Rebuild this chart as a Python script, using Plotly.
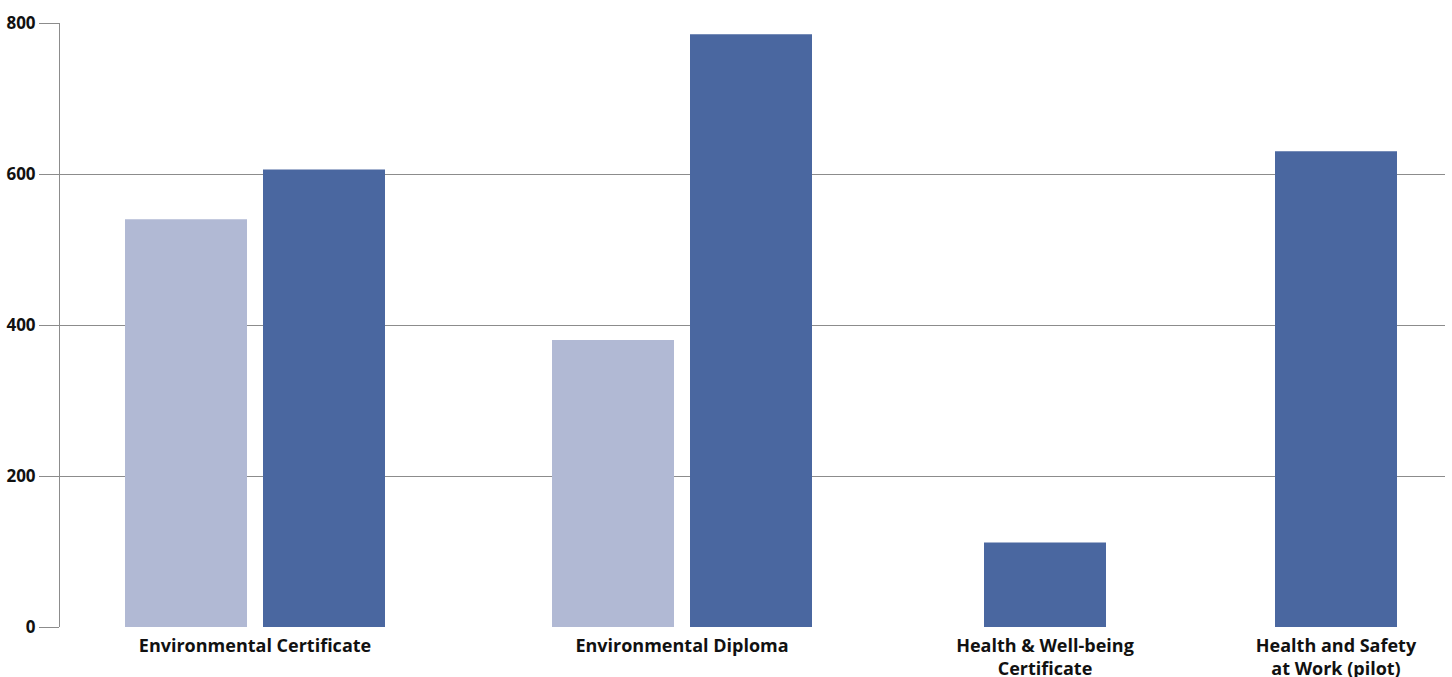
import plotly.graph_objects as go

# ---- data ----
categories = ["Environmental Certificate", "Environmental Diploma",
              "Health & Well-being<br>Certificate", "Health and Safety<br>at Work (pilot)"]
series_a = [540, 380, None, None]     # light series
series_b = [606, 785, 112, 630]       # dark series
y_ticks = [0, 200, 400, 600, 800]

# ---- layout constants (axis units) ----
centers = [195, 622, 985, 1276]
bar_w = 122
half_gap = 69

xa, ya, xb, yb = [], [], [], []
for c, a, b in zip(centers, series_a, series_b):
    if a is not None:
        xa.append(c - half_gap); ya.append(a)
        xb.append(c + half_gap); yb.append(b)
    else:
        xb.append(c); yb.append(b)

fig = go.Figure()
fig.add_trace(go.Bar(x=xa, y=ya, width=bar_w, marker=dict(color="#B1B9D4", line=dict(width=0)),
                     showlegend=False, hoverinfo="y"))
fig.add_trace(go.Bar(x=xb, y=yb, width=bar_w, marker=dict(color="#4A67A0", line=dict(width=0)),
                     showlegend=False, hoverinfo="y"))

font = dict(family="'Open Sans', sans-serif", size=18, color="#111111", weight=700)
yfont = dict(family="'Open Sans', sans-serif", size=17, color="#111111", weight=700)

fig.update_layout(
    width=1452, height=677,
    margin=dict(l=60, r=7, t=23, b=50),
    plot_bgcolor="white", paper_bgcolor="white",
    barmode="overlay",
    font=font,
    xaxis=dict(range=[0, 1385], tickvals=centers, ticktext=categories,
               showgrid=False, zeroline=False, showline=False, ticks="",
               tickfont=font, ticklabelstandoff=6, automargin=False, fixedrange=True),
    yaxis=dict(range=[0, 800], tickvals=y_ticks, showgrid=True, gridcolor="#8c8c8c",
               gridwidth=1, zeroline=False, showline=True, linecolor="#8c8c8c",
               ticks="outside", ticklen=20, tickcolor="#8c8c8c", tickfont=yfont,
               ticklabelstandoff=0, automargin=False),
)
fig.write_html("out.html")
